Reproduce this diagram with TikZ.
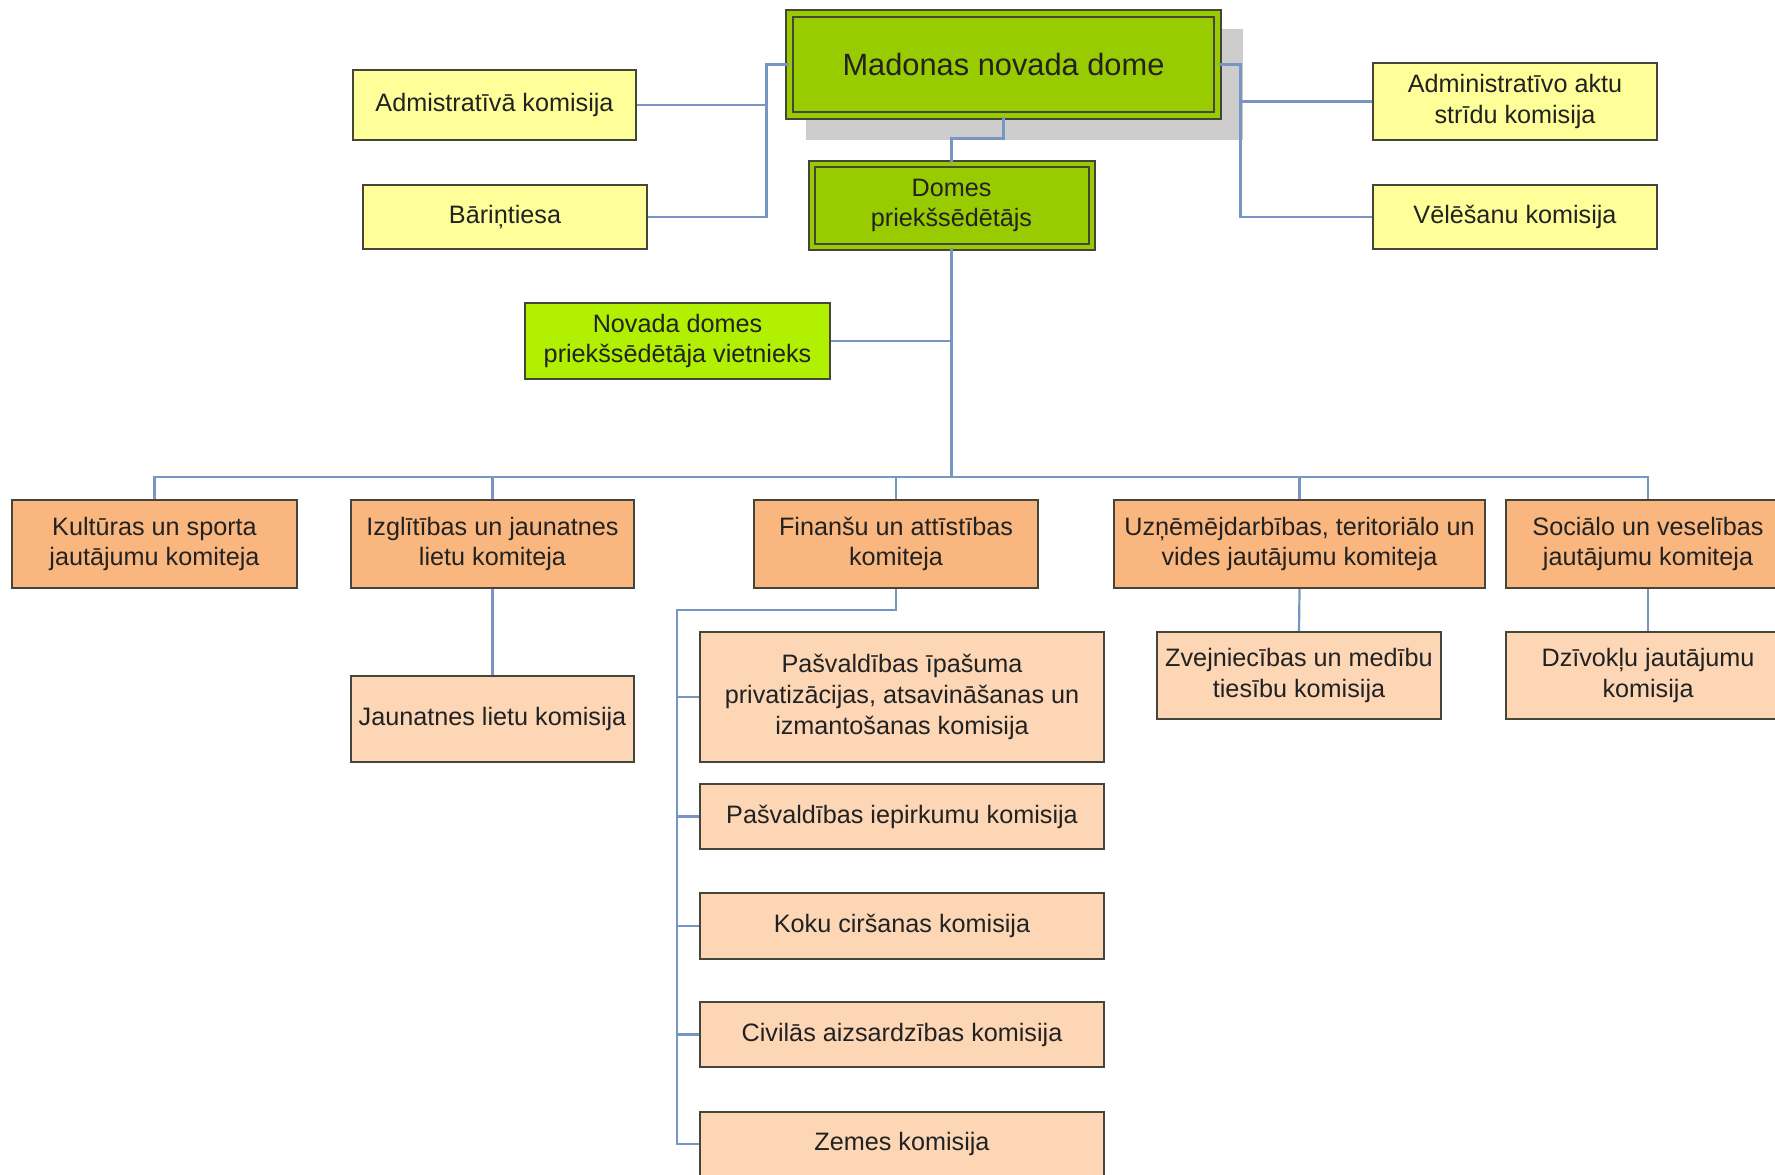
\documentclass[tikz,border=0pt]{standalone}
\usepackage{fontspec}
\setmainfont{Liberation Sans}
\definecolor{yel}{HTML}{FFFF99}
\definecolor{grn}{HTML}{99CC00}
\definecolor{lime}{HTML}{B0F000}
\definecolor{org}{HTML}{F9B77F}
\definecolor{peach}{HTML}{FCD6B5}
\definecolor{bord}{HTML}{45453A}
\definecolor{lnk}{HTML}{7896C4}
\definecolor{shd}{HTML}{CDCDCD}
\definecolor{txt}{HTML}{222222}
\begin{document}
\begin{tikzpicture}[x=0.5pt,y=-0.5pt,
  box/.style={draw=bord, line width=1pt, align=center, inner sep=0pt, text=txt,
    font=\fontsize{12.6}{15.4}\selectfont},
  ybox/.style={box, fill=yel},
  obox/.style={box, fill=org},
  pbox/.style={box, fill=peach},
  conn/.style={draw=lnk, line width=1.1pt}]
\clip (0,0) rectangle (1775,1174);
\fill[white] (0,0) rectangle (1775,1174);
% shadow
\fill[shd] (806,29) rectangle (1243,140);
% top
\node[box, fill=grn, draw=bord, line width=1pt, double=grn, double distance=2.5pt,
  minimum width=214pt, minimum height=51pt, font=\fontsize{15.4}{18}\selectfont] (madonas) at (1003.5,64.5) {Madonas novada dome};
\node[ybox, minimum width=141.5pt, minimum height=35pt] (admin) at (494.5,105) {Admistratīvā komisija};
\node[ybox, minimum width=142pt, minimum height=32pt] (barin) at (505,217) {Bāriņtiesa};
\node[ybox, minimum width=142pt, minimum height=38.5pt] (aktu) at (1515,101.5) {Administratīvo aktu\\strīdu komisija};
\node[ybox, minimum width=142pt, minimum height=32pt] (vel) at (1515,217) {Vēlēšanu komisija};
\node[box, fill=grn, double=grn, double distance=2pt,
  minimum width=140pt, minimum height=41.5pt] (domes) at (951.5,205.5) {Domes\\priekšsēdētājs};
\node[box, fill=lime, minimum width=152.5pt, minimum height=38pt] (viet) at (677.5,341) {Novada domes\\priekšsēdētāja vietnieks};
% committees
\node[obox, minimum width=142.5pt, minimum height=44pt] (kult) at (154.5,544) {Kultūras un sporta\\jautājumu komiteja};
\node[obox, minimum width=141.5pt, minimum height=44pt] (izg) at (492.5,544) {Izglītības un jaunatnes\\lietu komiteja};
\node[obox, minimum width=142pt, minimum height=44pt] (fin) at (896,544) {Finanšu un attīstības\\komiteja};
\node[obox, minimum width=185.5pt, minimum height=44pt] (uzn) at (1299.5,544) {Uzņēmējdarbības, teritoriālo un\\vides jautājumu komiteja};
\node[obox, minimum width=142pt, minimum height=44pt] (soc) at (1648,544) {Sociālo un veselības\\jautājumu komiteja};
% commissions
\node[pbox, minimum width=141.5pt, minimum height=43pt] (jaun) at (492.5,719) {Jaunatnes lietu komisija};
\node[pbox, minimum width=202pt, minimum height=65pt] (ipas) at (902,697) {Pašvaldības īpašuma\\privatizācijas, atsavināšanas un\\izmantošanas komisija};
\node[pbox, minimum width=202pt, minimum height=32.5pt] (iep) at (902,816.5) {Pašvaldības iepirkumu komisija};
\node[pbox, minimum width=202pt, minimum height=33pt] (koku) at (902,926) {Koku ciršanas komisija};
\node[pbox, minimum width=202pt, minimum height=32.5pt] (civ) at (902,1034.5) {Civilās aizsardzības komisija};
\node[pbox, minimum width=202pt, minimum height=40pt] (zem) at (902,1152) {};
\node[text=txt, font=\fontsize{12.6}{15.4}\selectfont] (zemt) at (902,1144) {Zemes komisija};
\node[pbox, minimum width=142pt, minimum height=43.5pt] (zvej) at (1299,675.5) {Zvejniecības un medību\\tiesību komisija};
\node[pbox, minimum width=142pt, minimum height=43.5pt] (dziv) at (1648,675.5) {Dzīvokļu jautājumu\\komisija};
% connectors
\draw[conn] (madonas.west) -- ++(-22,0) |- (admin.east);
\draw[conn] (madonas.west) -- ++(-22,0) |- (barin.east);
\draw[conn] (madonas.east) -- ++(22,0) |- (aktu.west);
\draw[conn] (madonas.east) -- ++(22,0) |- (vel.west);
\draw[conn] (madonas.south) -- ++(0,22) -| (domes.north);
\draw[conn] (domes.south) -- ++(0,229);
\draw[conn] (viet.east) -- (viet.east -| domes.south);
\draw[conn] (kult.north) -- ++(0,-22) -| (soc.north);
\draw[conn] (izg.north) -- ++(0,-22);
\draw[conn] (fin.north) -- ++(0,-22);
\draw[conn] (uzn.north) -- ++(0,-22);
\draw[conn] (izg.south) -- (jaun.north);
\draw[conn] (uzn.south) -- (zvej.north);
\draw[conn] (soc.south) -- (dziv.north);
\draw[conn] (fin.south) -- ++(0,21) -| ([xshift=-11pt]zemt.west -| zem.west) -- (zemt.west -| zem.west);
\draw[conn] (ipas.west) -- ++(-22,0);
\draw[conn] (iep.west) -- ++(-22,0);
\draw[conn] (koku.west) -- ++(-22,0);
\draw[conn] (civ.west) -- ++(-22,0);
\end{tikzpicture}
\end{document}
